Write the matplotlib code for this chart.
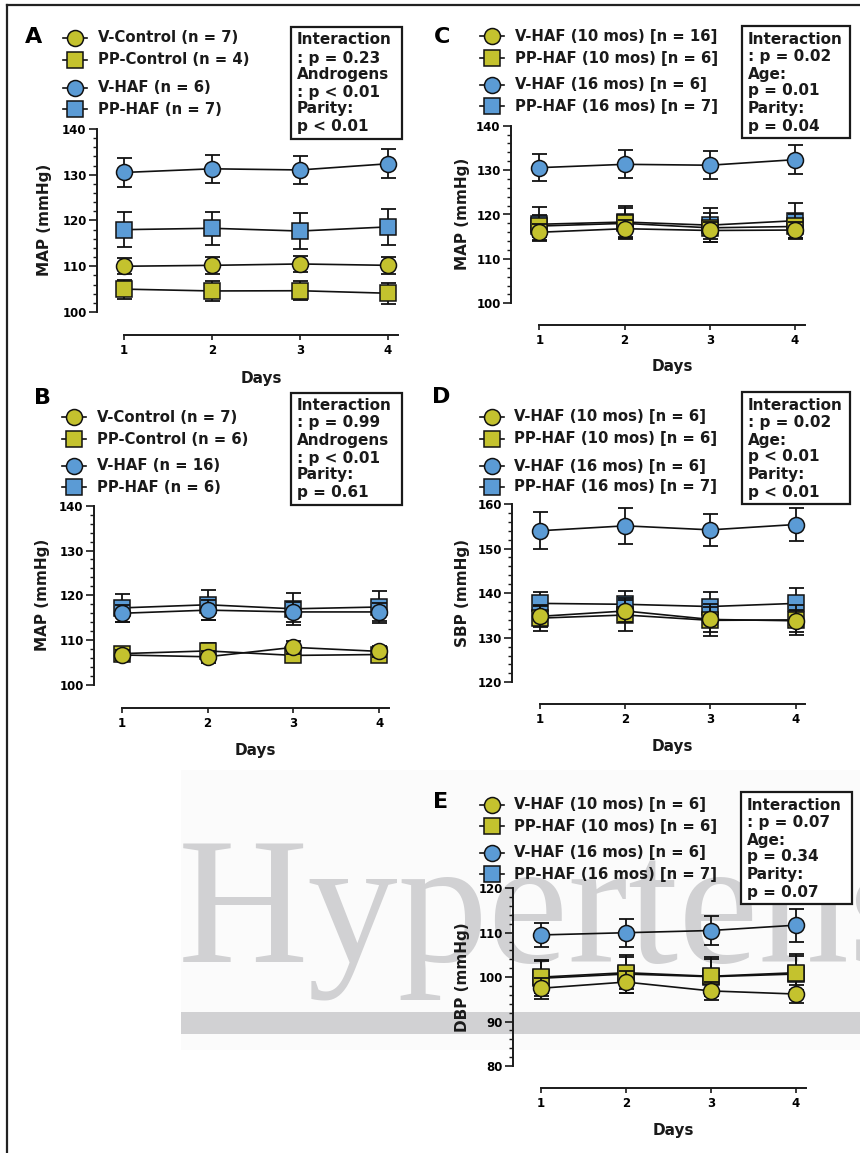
import matplotlib
matplotlib.use("Agg")
import matplotlib.pyplot as plt
from matplotlib.transforms import Affine2D
from matplotlib.patches import Rectangle
from matplotlib.lines import Line2D
from matplotlib.ticker import MultipleLocator

plt.rcParams['font.family'] = ['DejaVu Sans']
plt.rcParams['font.weight'] = 'bold'

# ---------------- data ----------------
days = [1, 2, 3, 4]

# Panel A (MAP)
a_vctrl = [110.0, 110.2, 110.5, 110.2]
a_vctrl_err = [1.7, 1.8, 1.7, 1.9]
a_ppctrl = [105.0, 104.6, 104.65, 104.1]
a_ppctrl_err = [2.1, 2.1, 2.1, 2.3]
a_vhaf = [130.5, 131.3, 131.05, 132.4]
a_vhaf_err = [3.1, 3.1, 3.0, 3.2]
a_pphaf = [118.0, 118.3, 117.7, 118.6]
a_pphaf_err = [3.8, 3.6, 3.9, 3.9]

# Panel B (MAP)
b_vctrl = [106.7, 106.3, 108.4, 107.5]
b_vctrl_err = [1.2, 1.3, 1.4, 1.3]
b_ppctrl = [107.0, 107.6, 106.6, 106.8]
b_ppctrl_err = [1.0, 1.7, 1.3, 1.0]
b_vhaf = [116.0, 116.7, 116.3, 116.3]
b_vhaf_err = [1.9, 2.3, 2.2, 2.0]
b_pphaf = [117.2, 117.9, 117.0, 117.4]
b_pphaf_err = [3.2, 3.4, 3.6, 3.5]

# Panel C (MAP)
c_v10 = [116.0, 116.8, 116.4, 116.5]
c_v10_err = [1.8, 1.9, 2.0, 1.9]
c_pp10 = [117.4, 118.0, 117.0, 117.3]
c_pp10_err = [2.5, 3.5, 3.3, 2.8]
c_v16 = [130.55, 131.3, 131.1, 132.35]
c_v16_err = [3.1, 3.15, 3.1, 3.2]
c_pp16 = [117.8, 118.3, 117.6, 118.6]
c_pp16_err = [3.8, 3.6, 3.9, 3.9]

# Panel D (SBP)
d_v10 = [134.8, 136.0, 134.1, 133.8]
d_v10_err = [2.5, 2.5, 2.8, 2.5]
d_pp10 = [134.4, 135.1, 133.9, 134.0]
d_pp10_err = [2.8, 3.7, 3.6, 3.3]
d_v16 = [154.0, 155.1, 154.2, 155.4]
d_v16_err = [4.1, 4.0, 3.6, 3.6]
d_pp16 = [137.7, 137.5, 137.0, 137.7]
d_pp16_err = [2.6, 2.9, 3.3, 3.5]

# Panel E (DBP)
e_v10 = [97.5, 98.9, 96.9, 96.2]
e_v10_err = [2.4, 2.5, 2.0, 2.1]
e_pp10 = [100.0, 101.0, 100.2, 101.0]
e_pp10_err = [3.6, 3.6, 3.8, 3.8]
e_v16 = [109.5, 110.0, 110.5, 111.7]
e_v16_err = [2.8, 3.2, 3.3, 3.7]
e_pp16 = [99.75, 100.7, 100.1, 100.7]
e_pp16_err = [4.1, 4.3, 4.4, 4.5]

labels_A = ["V-Control (n = 7)", "PP-Control (n = 4)", "V-HAF (n = 6)", "PP-HAF (n = 7)"]
labels_B = ["V-Control (n = 7)", "PP-Control (n = 6)", "V-HAF (n = 16)", "PP-HAF (n = 6)"]
labels_C = ["V-HAF (10 mos) [n = 16]", "PP-HAF (10 mos) [n = 6]", "V-HAF (16 mos) [n = 6]", "PP-HAF (16 mos) [n = 7]"]
labels_D = ["V-HAF (10 mos) [n = 6]", "PP-HAF (10 mos) [n = 6]", "V-HAF (16 mos) [n = 6]", "PP-HAF (16 mos) [n = 7]"]
labels_E = labels_D

stats_A = ["Interaction", ": p = 0.23", "Androgens", ": p < 0.01", "Parity:", "p < 0.01"]
stats_B = ["Interaction", ": p = 0.99", "Androgens", ": p < 0.01", "Parity:", "p = 0.61"]
stats_C = ["Interaction", ": p = 0.02", "Age:", "p = 0.01", "Parity:", "p = 0.04"]
stats_D = ["Interaction", ": p = 0.02", "Age:", "p < 0.01", "Parity:", "p < 0.01"]
stats_E = ["Interaction", ": p = 0.07", "Age:", "p = 0.34", "Parity:", "p = 0.07"]

# ---------------- style ----------------
YELLOW = '#C4C22E'
BLUE = '#5B9BD5'
W, H = 860, 1153
fig = plt.figure(figsize=(W / 100, H / 100), dpi=100)
TP = Affine2D().scale(1 / W, -1 / H).translate(0, 1) + fig.transFigure

FS_TICK = 8.5
FS_LEG = 10.7
FS_BOX = 11
FS_LAB = 11

# watermark / frame
fig.add_artist(Rectangle((181, 770), W - 181, 280, transform=TP, facecolor='#FBFBFB',
                         edgecolor='none', zorder=-3))
fig.text(178, 962, "Hypertension", transform=TP, family='Liberation Serif', fontweight='normal',
         fontsize=130, color='#D1D1D3', va='baseline', ha='left', zorder=-2)
fig.add_artist(Rectangle((181, 1012), W - 181, 22, transform=TP, facecolor='#D1D1D3',
                         edgecolor='none', zorder=-2))
fig.add_artist(Line2D([7, 7], [5, H], transform=TP, color='#222222', lw=1.6))
fig.add_artist(Line2D([7, W], [5, 5], transform=TP, color='#222222', lw=1.6))


def make_ax(spine_x, ytop_px, ybot_px, yhi, ylo, xaxis_px, d1, d4, xend):
    scale = (ybot_px - ytop_px) / (yhi - ylo)
    dx = (d4 - d1) / 3.0
    right = xend + 3
    ax = fig.add_axes([spine_x / W, 1 - xaxis_px / H, (right - spine_x) / W,
                       (xaxis_px - ytop_px) / H])
    ax.set_facecolor('none')
    ax.set_ylim(yhi - (xaxis_px - ytop_px) / scale, yhi)
    ax.set_xlim(1 - (d1 - spine_x) / dx, 4 + (right - d4) / dx)
    ax.spines['top'].set_visible(False)
    ax.spines['right'].set_visible(False)
    for s in ('left', 'bottom'):
        ax.spines[s].set_linewidth(1.4)
        ax.spines[s].set_color('#1a1a1a')
    ax.spines['left'].set_bounds(ylo, yhi)
    ax.spines['bottom'].set_bounds(1, 4 + (xend - d4) / dx)
    ax.set_xticks(days)
    ax.set_xticklabels([str(d) for d in days])
    ax.set_yticks([v for v in range(int(ylo), int(yhi) + 1, 10)])
    ax.set_yticks([v for v in range(int(ylo), int(yhi) + 1, 2)], minor=True)
    ax.tick_params(axis='y', which='major', length=6, width=1.2, pad=1.5,
                   labelsize=FS_TICK, color='#1a1a1a')
    ax.tick_params(axis='y', which='minor', length=3, width=1.0, color='#1a1a1a')
    ax.tick_params(axis='x', which='major', length=3.5, width=1.2, pad=3,
                   labelsize=FS_TICK, color='#1a1a1a')
    for t in ax.get_xticklabels() + ax.get_yticklabels():
        t.set_fontweight('bold')
    return ax


def series(ax, y, err, color, marker, z):
    ax.errorbar(days, y, yerr=err, fmt='none', ecolor='#111111', elinewidth=1.3,
                capsize=5.4, capthick=1.3, zorder=z, clip_on=False)
    ms = 11.5 if marker == 'o' else 11
    ax.plot(days, y, color='#111111', lw=1.2, marker=marker, ms=ms, mfc=color,
            mec='#111111', mew=1.1, zorder=z + 0.5, clip_on=False)


def legend_rows(mx, text_x, rows, labels, colors, markers):
    for yv, lab, c, m in zip(rows, labels, colors, markers):
        fig.add_artist(Line2D([mx - 12, mx + 12], [yv, yv], transform=TP, color='#111111',
                              lw=1.2, zorder=5))
        ms = 11.5 if m == 'o' else 11
        fig.add_artist(Line2D([mx], [yv], transform=TP, marker=m, ms=ms, mfc=c,
                              mec='#111111', mew=1.1, lw=0, zorder=6))
        fig.text(text_x, yv, lab, transform=TP, fontsize=FS_LEG, fontweight='bold',
                 va='center', ha='left', color='#1a1a1a', zorder=6)


def stats_box(box, tx, ys, lines):
    x0, y0, x1, y1 = box
    fig.add_artist(Rectangle((x0, y0), x1 - x0, y1 - y0, transform=TP, facecolor='white',
                             edgecolor='#1a1a1a', lw=1.6, zorder=5))
    for yv, s in zip(ys, lines):
        fig.text(tx, yv, s, transform=TP, fontsize=FS_BOX, fontweight='bold',
                 va='center', ha='left', color='#1a1a1a', zorder=6)


def panel_text(letter, lpos, ylab, ylab_pos, days_pos):
    fig.text(lpos[0], lpos[1], letter, transform=TP, fontsize=16, fontweight='bold',
             ha='center', va='center', color='black')
    fig.text(ylab_pos[0], ylab_pos[1], ylab, transform=TP, fontsize=FS_LAB, fontweight='bold',
             rotation=90, ha='center', va='center', color='#1a1a1a')
    fig.text(days_pos[0], days_pos[1], "Days", transform=TP, fontsize=FS_LAB,
             fontweight='bold', ha='center', va='center', color='#1a1a1a')


cols = [YELLOW, YELLOW, BLUE, BLUE]
mks = ['o', 's', 'o', 's']

# ---- Panel A ----
axA = make_ax(97, 129, 312, 140, 100, 335, 124, 388, 398)
series(axA, a_vhaf, a_vhaf_err, BLUE, 'o', 2)
series(axA, a_pphaf, a_pphaf_err, BLUE, 's', 3)
series(axA, a_ppctrl, a_ppctrl_err, YELLOW, 's', 4)
series(axA, a_vctrl, a_vctrl_err, YELLOW, 'o', 5)
legend_rows(75, 98, [38, 60, 88, 109], labels_A, cols, mks)
stats_box((291, 27, 402, 139), 297, [40, 58, 75, 92, 109, 127], stats_A)
panel_text("A", (34, 37), "MAP (mmHg)", (45, 220), (261, 378))

# ---- Panel B ----
axB = make_ax(94, 505.7, 685, 140, 100, 708, 121.7, 379.3, 389)
series(axB, b_pphaf, b_pphaf_err, BLUE, 's', 2)
series(axB, b_vhaf, b_vhaf_err, BLUE, 'o', 3)
series(axB, b_ppctrl, b_ppctrl_err, YELLOW, 's', 4)
series(axB, b_vctrl, b_vctrl_err, YELLOW, 'o', 5)
legend_rows(74, 97, [417, 439, 466, 487], labels_B, cols, mks)
stats_box((291, 393, 402, 505), 297, [406, 423, 441, 458, 475, 492], stats_B)
panel_text("B", (43, 398), "MAP (mmHg)", (43, 595), (255, 750))

# ---- Panel C ----
axC = make_ax(511, 125.7, 303.3, 140, 100, 325, 539.3, 795, 805)
series(axC, c_v16, c_v16_err, BLUE, 'o', 2)
series(axC, c_pp16, c_pp16_err, BLUE, 's', 3)
series(axC, c_pp10, c_pp10_err, YELLOW, 's', 4)
series(axC, c_v10, c_v10_err, YELLOW, 'o', 5)
legend_rows(492, 515, [36, 58, 85, 106], labels_C, cols, mks)
stats_box((742, 26, 850, 138), 748, [39, 57, 74, 91, 109, 126], stats_C)
panel_text("C", (442, 37), "MAP (mmHg)", (463, 214), (672, 366))

# ---- Panel D ----
axD = make_ax(512.3, 504, 682.3, 160, 120, 704, 540, 795.7, 805)
series(axD, d_v16, d_v16_err, BLUE, 'o', 2)
series(axD, d_pp16, d_pp16_err, BLUE, 's', 3)
series(axD, d_pp10, d_pp10_err, YELLOW, 's', 4)
series(axD, d_v10, d_v10_err, YELLOW, 'o', 5)
legend_rows(492, 514, [417, 439, 466, 487], labels_D, cols, mks)
stats_box((742, 392, 850, 504), 748, [405, 422, 440, 457, 474, 492], stats_D)
panel_text("D", (441, 397), "SBP (mmHg)", (463, 593), (672, 747))

# ---- Panel E ----
axE = make_ax(513.3, 888.3, 1066, 120, 80, 1088.3, 540.7, 796, 806)
series(axE, e_v16, e_v16_err, BLUE, 'o', 2)
series(axE, e_pp16, e_pp16_err, BLUE, 's', 3)
series(axE, e_pp10, e_pp10_err, YELLOW, 's', 4)
series(axE, e_v10, e_v10_err, YELLOW, 'o', 5)
legend_rows(492, 514, [805, 826, 853, 874], labels_E, cols, mks)
stats_box((741, 792, 852, 904), 747, [805, 822, 840, 857, 874, 892], stats_E)
panel_text("E", (441, 802), "DBP (mmHg)", (463, 977), (673, 1130))

fig.savefig("out.png", dpi=100)
